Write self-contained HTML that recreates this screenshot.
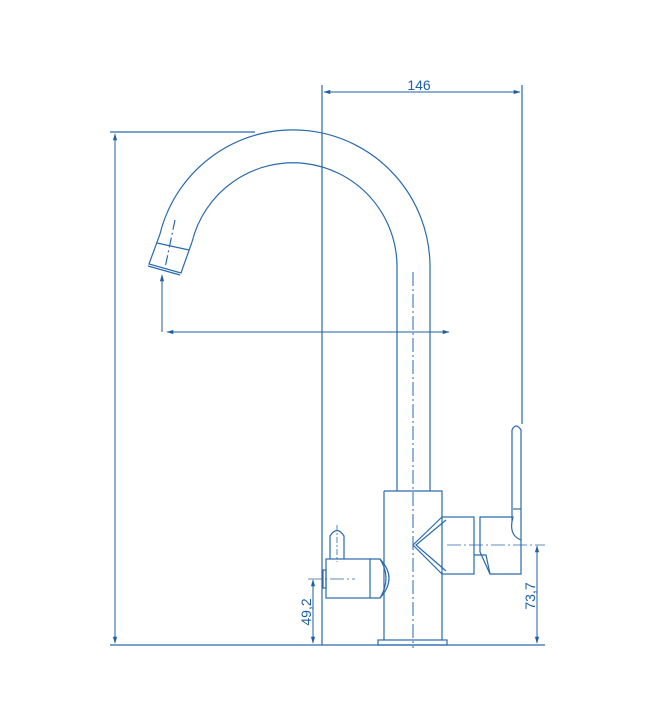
<!DOCTYPE html>
<html><head><meta charset="utf-8"><style>
html,body{margin:0;padding:0;background:#fff;}
svg{display:block;}
text{font-family:"Liberation Sans",sans-serif;fill:#1f5fa3;font-size:14px;}
</style></head><body>
<svg width="648" height="710" viewBox="0 0 648 710" xmlns="http://www.w3.org/2000/svg">
<defs>
<marker id="a" viewBox="0 0 10 10" refX="9" refY="5" markerWidth="7" markerHeight="7" orient="auto-start-reverse"><path d="M0,2 L10,5 L0,8 z" fill="#1f5fa3"/></marker>
</defs>
<g stroke="#2a6aad" stroke-width="1.2" fill="none">
<line x1="110" y1="645" x2="545" y2="645"/>
<!-- spout -->
<path d="M160,234 A137,137 0 0 1 430,266 L430,491"/>
<path d="M192,242 A104,104 0 0 1 397,266 L397,491"/>
<path d="M160,234 L149,264 L181,273 L192,242"/>
<line x1="157" y1="243" x2="189" y2="250"/>
<line x1="148" y1="266" x2="180" y2="275"/>
<line x1="175" y1="220" x2="165" y2="268" stroke-dasharray="10,3,2,3"/>
<!-- body -->
<path d="M384,491 L442,491 L442,517 M442,574 L442,640 M384,491 L384,640"/>
<rect x="378" y="640" width="69" height="5"/>
<line x1="413" y1="272" x2="413" y2="648" stroke-dasharray="14,3,2,3" stroke-width="1"/>
<path d="M442,517 L413,545 L442,574 M446,520 L416,545 L446,571"/>
<rect x="442" y="517" width="32" height="57"/>
<path d="M480,517 L513,517 Q508,535 521,540 L521,574 L490,574 L480,552 Z"/>
<path d="M474,555 L486,555 L490,574"/>
<path d="M512,521 L512,430 Q516,422 521,430 L521,540"/>
<line x1="513" y1="509" x2="521" y2="509"/>
<!-- left knob -->
<rect x="326" y="559" width="44" height="39"/>
<rect x="323" y="570" width="3" height="18"/>
<path d="M370,559 L380,559 Q398,578 380,598 L370,598"/>
<path d="M380,559 Q392,578 380,598"/>
<path d="M330,559 L330,536 Q337,525 344,536 L344,559"/>
<line x1="337" y1="525" x2="337" y2="562" stroke-dasharray="6,2,2,2" stroke-width="0.8"/>
<line x1="308" y1="579" x2="355" y2="579" stroke-dasharray="14,3,2,3" stroke-width="0.8"/>
<line x1="447" y1="545" x2="545" y2="545" stroke-dasharray="14,3,2,3" stroke-width="0.8"/>
<line x1="322" y1="85" x2="322" y2="645"/>
<line x1="522" y1="85" x2="522" y2="424"/>
<line x1="110" y1="132" x2="255" y2="132"/>
</g>
<g stroke="#1f5fa3" stroke-width="1" fill="none">
<line x1="324" y1="92" x2="520" y2="92" marker-start="url(#a)" marker-end="url(#a)"/>
<line x1="115" y1="134" x2="115" y2="643" marker-start="url(#a)" marker-end="url(#a)"/>
<line x1="162" y1="332" x2="162" y2="275" marker-end="url(#a)"/>
<line x1="167" y1="332" x2="449" y2="332" marker-start="url(#a)" marker-end="url(#a)"/>
<line x1="313" y1="580" x2="313" y2="643" marker-start="url(#a)" marker-end="url(#a)"/>
<line x1="537" y1="546" x2="537" y2="643" marker-start="url(#a)" marker-end="url(#a)"/>
</g>
<text x="419" y="90" text-anchor="middle">146</text>
<text transform="translate(311,612) rotate(-90)" text-anchor="middle">49,2</text>
<text transform="translate(535,596) rotate(-90)" text-anchor="middle">73,7</text>
</svg>
</body></html>
